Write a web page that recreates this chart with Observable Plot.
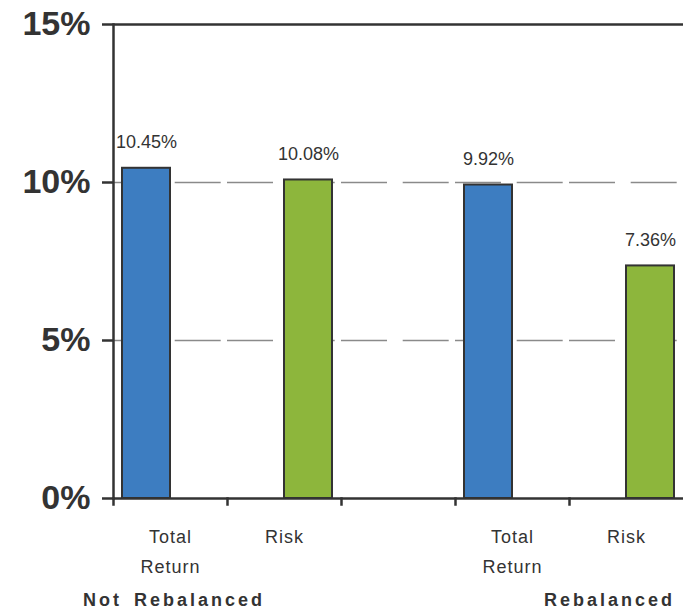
<!DOCTYPE html>
<html>
<head>
<meta charset="utf-8">
<script src="https://cdn.jsdelivr.net/npm/d3@7"></script>
<script src="https://cdn.jsdelivr.net/npm/@observablehq/plot@0.6"></script>
<style>
  html, body { margin: 0; padding: 0; background: #fff; }
  #wrap { width: 684px; font-family: "Liberation Sans", Arial, sans-serif; color: #333; }
  #caption { position: relative; height: 39px; }
  #caption span { position: absolute; top: 21px; font-size: 18px; line-height: 18px; font-weight: bold; letter-spacing: 3px; word-spacing: 4px; white-space: nowrap; }
  svg [aria-label="fx-axis tick label"] { letter-spacing: 1px; }
</style>
</head>
<body>
<div id="wrap">
  <div id="chart"></div>
  <div id="caption"></div>
</div>
<script>
// ---- data ----
const slots = ["s1", "s2", "s3", "s4", "s5"];
const slotLabels = ["Total\nReturn", "Risk", "", "Total\nReturn", "Risk"];
const series = ["Total Return", "Risk"];
// the middle slot is an empty spacer between the two groups (no value)
const barSlot = ["s1", "s2", "s3", "s4", "s5"];
const barSeries = ["Total Return", "Risk", "Risk", "Total Return", "Risk"];
const barValue = [10.45, 10.08, null, 9.92, 7.36];
const yTicks = [0, 5, 10, 15];
const gridValues = [5, 10];
const frameValues = [0, 15];
const groupTitles = ["Not Rebalanced", "Rebalanced"];
const seriesColors = ["#3d7dc1", "#8db63c"];

const bars = barValue.map((v, i) => ({slot: barSlot[i], series: barSeries[i], value: v}));

const H = 570, mTop = 24, mBottom = 72;
const innerH = H - mTop - mBottom;

const chart = Plot.plot({
  width: 684,
  height: H,
  marginLeft: 111,
  marginRight: 0,
  marginTop: mTop,
  marginBottom: mBottom,
  style: {fontFamily: "'Liberation Sans', Arial, sans-serif", color: "#333", background: "#fff", overflow: "visible"},
  facet: {data: bars, x: "slot"},
  fx: {domain: slots, padding: 0, label: null},
  x: {domain: series, paddingInner: 0, paddingOuter: 0.17, axis: null},
  y: {domain: [0, 15], label: null},
  color: {domain: series, range: seriesColors},
  marks: [
    Plot.ruleY(gridValues, {stroke: "#8a8a8a", strokeWidth: 1.5, strokeDasharray: "46,15.7"}),
    Plot.barY(bars, {x: "series", y: "value", fill: "series", stroke: "#333", strokeWidth: 2}),
    Plot.text(bars, {x: "series", y: "value", text: d => d.value == null ? null : d.value.toFixed(2) + "%", lineAnchor: "bottom", dy: -20, fontSize: 18, fill: "#333"}),
    Plot.ruleY(frameValues, {stroke: "#333", strokeWidth: 2.5}),
    Plot.frame({anchor: "left", stroke: "#333", strokeWidth: 2.5, insetTop: innerH, insetBottom: -6}),
    Plot.frame({anchor: "left", facetAnchor: "left", stroke: "#333", strokeWidth: 2.5}),
    Plot.axisY({ticks: yTicks, tickFormat: d => d + "%", tickSize: 11, tickPadding: 12, fontSize: 34, fontWeight: "bold", stroke: "#333", strokeWidth: 2.5, label: null}),
    Plot.axisFx({anchor: "bottom", tickSize: 0, tickPadding: 23, fontSize: 18, lineHeight: 1.667, tickFormat: d => slotLabels[slots.indexOf(d)], label: null})
  ]
});
document.getElementById("chart").appendChild(chart);

const cap = document.getElementById("caption");
const capLeft = [83, 544];
groupTitles.forEach((t, i) => {
  const s = document.createElement("span");
  s.textContent = t;
  s.style.left = capLeft[i] + "px";
  cap.appendChild(s);
});
</script>
</body>
</html>
